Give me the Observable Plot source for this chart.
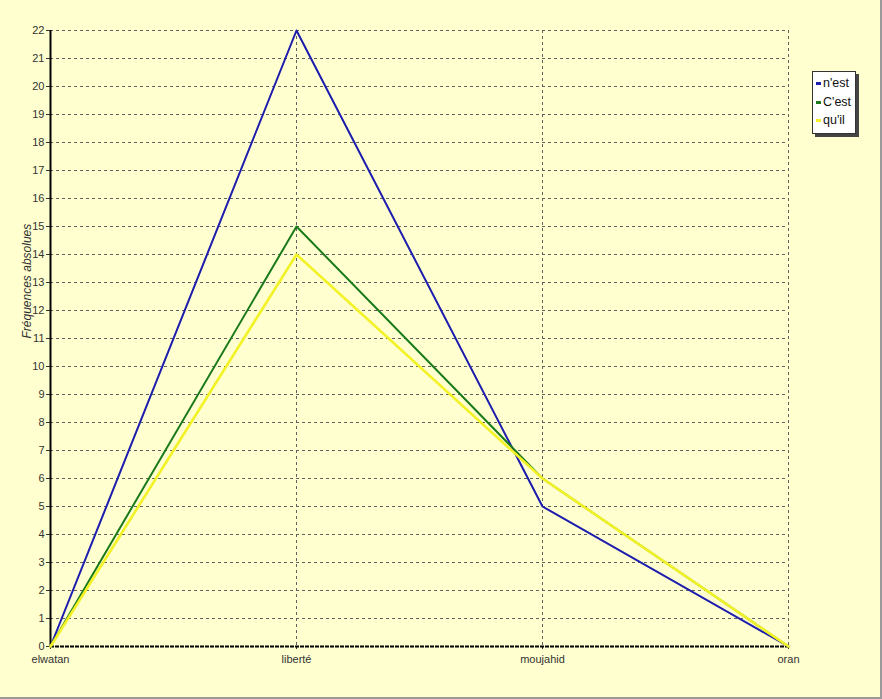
<!DOCTYPE html>
<html><head><meta charset="utf-8">
<script src="https://cdn.jsdelivr.net/npm/d3@7"></script>
<script src="https://cdn.jsdelivr.net/npm/@observablehq/plot@0.6"></script>
<style>
body{margin:0;background:#ffffcf;}
#wrap{position:relative;width:882px;height:699px;background:#ffffcf;box-sizing:border-box;border-right:2px solid #9a9a9a;border-bottom:2px solid #9a9a9a;overflow:hidden;}
#legend{position:absolute;left:812px;top:71px;width:39px;background:#fff;border:1px solid #333;box-shadow:3px 3px 0 #444;font:12.5px "Liberation Sans",Arial,sans-serif;padding:2px 0 3px 3px;line-height:18.5px;color:#111;}
#legend span.k{display:inline-block;width:5px;height:3px;margin-right:2px;vertical-align:middle;}
</style></head><body>
<div id="wrap"><div id="chart"></div><div id="legend"></div></div>
<script>
const categories = ["elwatan","liberté","moujahid","oran"];
const seriesNames = ["n'est","C'est","qu'il"];
const nest = [0,22,5,0];
const cest = [0,15,6,0];
const quil = [0,14,6,0];
const colors = ["#1c1cae","#1a7a1a","#f2f226"];
const widths = [2,2,2.6];
const yTicks = d3.range(0,23);

const data = [];
[nest,cest,quil].forEach((vals,si)=>vals.forEach((v,i)=>data.push({series:seriesNames[si],cat:categories[i],value:v})));

const plot = Plot.plot({
  width: 880, height: 697,
  marginLeft: 50, marginRight: 92, marginTop: 30, marginBottom: 51,
  style:{background:"transparent",fontFamily:"'Liberation Sans',Arial,sans-serif",fontSize:"11px",color:"#333"},
  x:{type:"point",domain:categories,padding:0,label:null},
  y:{domain:[0,22],ticks:yTicks,label:null},
  color:{domain:seriesNames,range:colors},
  marks:[
    Plot.gridY(yTicks.filter(d=>d>0),{stroke:"#606060",strokeOpacity:1,strokeDasharray:"3,3",strokeWidth:1}),
    Plot.gridX(categories.slice(1),{stroke:"#606060",strokeOpacity:1,strokeDasharray:"3,3",strokeWidth:1}),
    Plot.axisY({ticks:yTicks,tickSize:4,tickPadding:2,label:null,fill:"#333"}),
    Plot.axisX({tickSize:3,tickPadding:6,label:null,fill:"#333"}),
    Plot.text(["Fréquences absolues"],{frameAnchor:"left",dx:-23,rotate:-90,fontStyle:"italic",fontSize:12,fill:"#333"}),
    Plot.ruleY([0],{stroke:"#000",strokeWidth:2,strokeDasharray:"4,1"}),
    Plot.ruleX([categories[0]],{stroke:"#000",strokeWidth:2}),
    ...seriesNames.map((s,si)=>Plot.line(data.filter(d=>d.series===s),{x:"cat",y:"value",stroke:colors[si],strokeWidth:widths[si]}))
  ]
});
document.getElementById("chart").appendChild(plot);

const lg = document.getElementById("legend");
seriesNames.forEach((n,i)=>{
  const d=document.createElement("div");
  d.innerHTML=`<span class="k" style="background:${colors[i]}"></span>${n}`;
  lg.appendChild(d);
});
</script>
</body></html>
